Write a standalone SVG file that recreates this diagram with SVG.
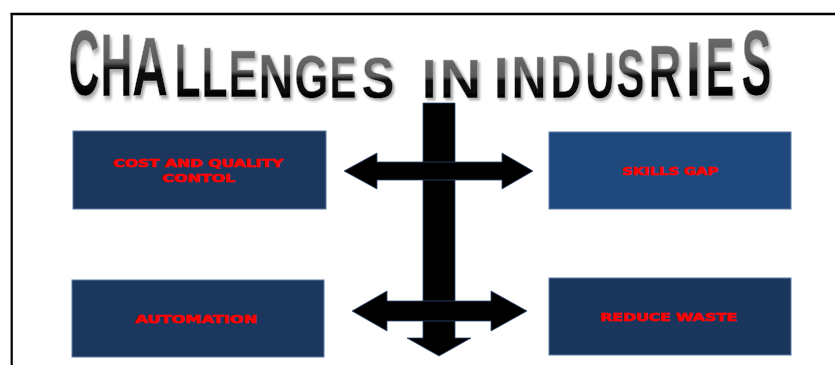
<svg xmlns="http://www.w3.org/2000/svg" width="835" height="365" viewBox="0 0 835 365">
<defs>
<linearGradient id="tg" x1="0" y1="0" x2="0" y2="1">
<stop offset="0" stop-color="#747474"/>
<stop offset="0.47" stop-color="#5a5a5a"/>
<stop offset="0.53" stop-color="#0c0c0c"/>
<stop offset="1" stop-color="#000000"/>
</linearGradient>
<filter id="sh" x="-30%" y="-20%" width="170%" height="150%">
<feDropShadow dx="1.8" dy="1.8" stdDeviation="1.1" flood-color="#8a8a8a" flood-opacity="0.75"/>
</filter>
</defs>
<style>
.t{font-family:"Liberation Sans",Arial,sans-serif;font-weight:bold;font-size:50px;fill:url(#tg);stroke:#c4c4c4;stroke-width:0.35px;filter:url(#sh)}
.box{stroke:#5a7aa3;stroke-width:1}
.lbl{font-family:"DejaVu Sans","Liberation Sans",sans-serif;font-weight:bold;font-size:11px;fill:#ff0000;stroke:#ff0000;stroke-width:0.6px;text-anchor:middle}
.arr{fill:#000000;stroke:#2e4a74;stroke-width:0.8}
</style>
<rect width="835" height="365" fill="#ffffff"/>
<g id="frame">
<line x1="11.7" y1="13" x2="11.7" y2="365" stroke="#000" stroke-width="2.2"/>
<line x1="10.6" y1="14" x2="835" y2="14" stroke="#000" stroke-width="2.4"/>
</g>
<g id="title">
<text class="t" transform="translate(68.5,95) scale(0.859,1.872)">C</text>
<text class="t" transform="translate(100.5,95.5) scale(0.886,1.774)">H</text>
<text class="t" transform="translate(132,96) scale(1.0,1.676)">A</text>
<text class="t" transform="translate(174.5,96.5) scale(0.851,1.522)">L</text>
<text class="t" transform="translate(201.5,97) scale(0.851,1.425)">L</text>
<text class="t" transform="translate(228.5,97) scale(0.870,1.341)">E</text>
<text class="t" transform="translate(258.5,97.5) scale(0.970,1.271)">N</text>
<text class="t" transform="translate(294.5,97.5) scale(0.874,1.215)">G</text>
<text class="t" transform="translate(329.5,98) scale(0.810,1.187)">E</text>
<text class="t" transform="translate(361.5,98) scale(0.990,1.145)">S</text>
<text class="t" transform="translate(421.5,98) scale(1.1,1.117)">I</text>
<text class="t" transform="translate(439.5,98) scale(1.163,1.117)">N</text>
<text class="t" transform="translate(493.5,98) scale(1.1,1.131)">I</text>
<text class="t" transform="translate(511.5,98) scale(0.970,1.173)">N</text>
<text class="t" transform="translate(550.5,98) scale(0.859,1.229)">D</text>
<text class="t" transform="translate(585.5,97.5) scale(0.803,1.285)">U</text>
<text class="t" transform="translate(616.5,97) scale(0.840,1.369)">S</text>
<text class="t" transform="translate(648.5,96.5) scale(0.914,1.480)">R</text>
<text class="t" transform="translate(685.5,96) scale(1.15,1.564)">I</text>
<text class="t" transform="translate(705.5,95.5) scale(0.870,1.662)">E</text>
<text class="t" transform="translate(741.5,95) scale(0.900,1.872)">S</text>
</g>
<g id="connectors">
<path class="arr" d="M423,103 H455 V338 H471 L439,356 L407,338 H423 Z"/>
<path class="arr" d="M344,171 L377,153 V162 H502 V153 L533,171 L502,189 V180 H377 V189 Z"/>
<path class="arr" d="M352,311 L387,291 V301 H491 V291 L527,311 L491,331 V321 H387 V331 Z"/>
</g>
<g id="cost-quality">
<rect class="box" x="73" y="131" width="253" height="78" fill="#1b375d"/>
<text class="lbl" x="198" y="167" textLength="170" lengthAdjust="spacingAndGlyphs">COST AND QUALITY</text>
<text class="lbl" x="198.5" y="182" textLength="73" lengthAdjust="spacingAndGlyphs">CONTOL</text>
</g>
<g id="skills-gap">
<rect class="box" x="549" y="132" width="242" height="77" fill="#1f497c"/>
<text class="lbl" x="670" y="175" textLength="96" lengthAdjust="spacingAndGlyphs">SKILLS GAP</text>
</g>
<g id="automation">
<rect class="box" x="72" y="280" width="252" height="77" fill="#1b375d"/>
<text class="lbl" x="196" y="323" textLength="122" lengthAdjust="spacingAndGlyphs">AUTOMATION</text>
</g>
<g id="reduce-waste">
<rect class="box" x="549" y="278" width="242" height="77" fill="#1b365c"/>
<text class="lbl" x="668.5" y="321" textLength="137" lengthAdjust="spacingAndGlyphs">REDUCE WASTE</text>
</g>
</svg>
